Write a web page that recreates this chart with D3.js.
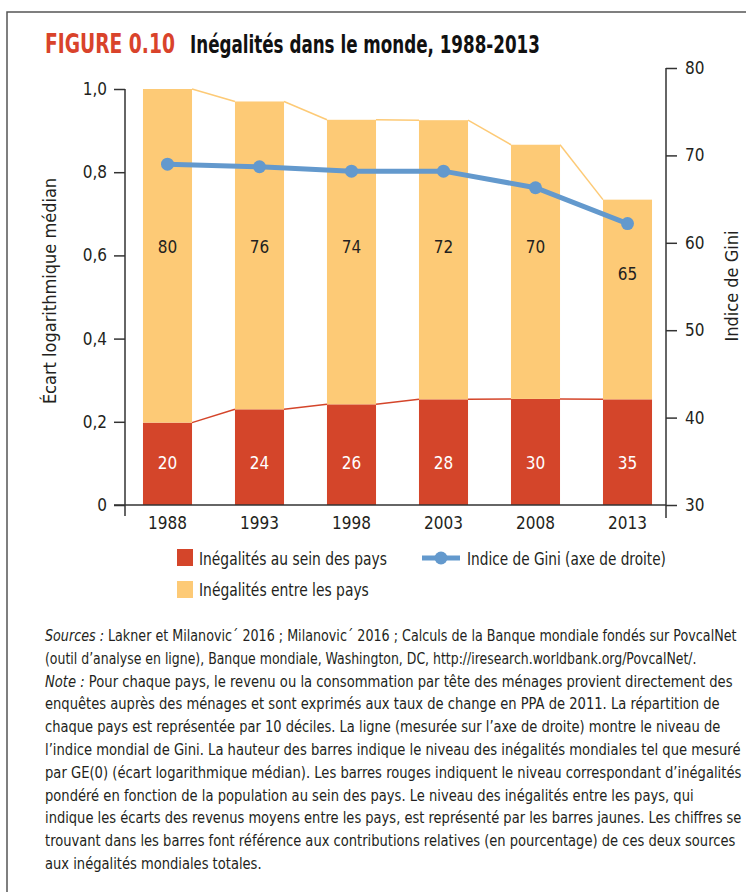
<!DOCTYPE html>
<html>
<head>
<meta charset="utf-8">
<script src="https://cdn.jsdelivr.net/npm/d3@7"></script>
<style>
  body { margin: 0; background: #fff; }
  svg text { font-family: "Liberation Sans Narrow", "DejaVu Sans Condensed", "Roboto Condensed", sans-serif; font-stretch: condensed; fill: #231f20; }
</style>
</head>
<body>
<script>
//chart values
var years = ["1988", "1993", "1998", "2003", "2008", "2013"];
//log deviation, within countries (red) and between countries (yellow)
var withinVals = [0.198, 0.230, 0.242, 0.254, 0.255, 0.254];
var betweenVals = [0.802, 0.740, 0.684, 0.671, 0.611, 0.480];
//percent labels written in the bars
var withinPct = [20, 24, 26, 28, 30, 35];
var betweenPct = [80, 76, 74, 72, 70, 65];
//gini index (right axis)
var gini = [69.0, 68.7, 68.2, 68.2, 66.3, 62.2];
//axis ticks
var leftTicks = [0, 0.2, 0.4, 0.6, 0.8, 1.0];
var rightTicks = [30, 40, 50, 60, 70, 80];

var footLines = [
    [["Sources :", true], [" Lakner et Milanovic´ 2016 ; Milanovic´ 2016 ; Calculs de la Banque mondiale fondés sur PovcalNet", false]],
    [["(outil d’analyse en ligne), Banque mondiale, Washington, DC, http://iresearch.worldbank.org/PovcalNet/.", false]],
    [["Note :", true], [" Pour chaque pays, le revenu ou la consommation par tête des ménages provient directement des", false]],
    [["enquêtes auprès des ménages et sont exprimés aux taux de change en PPA de 2011. La répartition de", false]],
    [["chaque pays est représentée par 10 déciles. La ligne (mesurée sur l’axe de droite) montre le niveau de", false]],
    [["l’indice mondial de Gini. La hauteur des barres indique le niveau des inégalités mondiales tel que mesuré", false]],
    [["par GE(0) (écart logarithmique médian). Les barres rouges indiquent le niveau correspondant d’inégalités", false]],
    [["pondéré en fonction de la population au sein des pays. Le niveau des inégalités entre les pays, qui", false]],
    [["indique les écarts des revenus moyens entre les pays, est représenté par les barres jaunes. Les chiffres se", false]],
    [["trouvant dans les barres font référence aux contributions relatives (en pourcentage) de ces deux sources", false]],
    [["aux inégalités mondiales totales.", false]]
];
//right end of each footnote line in the figure (last line keeps the previous squeeze)
var footEnds = [737, 697, 733, 720, 721, 741, 742, 694, 742, 736, null];

var red = "#d4452a";
var yellow = "#fdca76";
var blue = "#6399cd";

var w = 746, h = 892;
var svg = d3.select("body").append("svg")
    .attr("width", w)
    .attr("height", h);

//squeezes a text horizontally so it spans the given width, returns the factor
function fit(t, x, y, width, k) {
    t.attr("x", 0).attr("y", 0);
    if (!k) {
        k = width / t.node().getComputedTextLength();
    }
    t.attr("transform", "translate(" + x + "," + y + ") scale(" + k + ",1)");
    return k;
}

//frame lines
svg.append("path")
    .attr("d", "M7,892 V12 H746")
    .attr("fill", "none")
    .attr("stroke", "#555")
    .attr("stroke-width", 1.5);

//title
fit(svg.append("text")
    .attr("font-size", 26).attr("font-weight", "bold")
    .style("fill", "#d9432b")
    .text("FIGURE 0.10"), 45, 53, 130);
fit(svg.append("text")
    .attr("font-size", 24).attr("font-weight", "bold")
    .style("fill", "#111")
    .text("Inégalités dans le monde, 1988-2013"), 190, 53, 350);

//scales
var x = d3.scaleBand().domain(years).range([121.5, 673.5])
    .paddingInner(0.467).paddingOuter(0.2335);
var y = d3.scaleLinear().domain([0, 1]).range([505, 89]);
var yR = d3.scaleLinear().domain([30, 80]).range([505, 68]);

//stack the two series
var rows = years.map(function(d, i) {
    return { year: d, within: withinVals[i], between: betweenVals[i] };
});
var stack = d3.stack().keys(["within", "between"])(rows);
var colors = { within: red, between: yellow };

//connector lines between the bar tops
stack.forEach(function(s) {
    for (var i = 0; i < s.length - 1; i++) {
        svg.append("line")
            .attr("x1", x(years[i]) + x.bandwidth())
            .attr("y1", y(s[i][1]))
            .attr("x2", x(years[i + 1]))
            .attr("y2", y(s[i + 1][1]))
            .attr("stroke", colors[s.key])
            .attr("stroke-width", 1.5);
    }
});

//bars
stack.forEach(function(s) {
    svg.append("g").selectAll("rect")
        .data(s)
        .enter()
        .append("rect")
        .attr("x", function(d) { return x(d.data.year); })
        .attr("y", function(d) { return y(d[1]); })
        .attr("width", x.bandwidth())
        .attr("height", function(d) { return y(d[0]) - y(d[1]); })
        .attr("fill", colors[s.key]);
});

//percent labels in the bars
svg.append("g").selectAll("text")
    .data(years)
    .enter()
    .append("text")
    .attr("x", function(d) { return x(d) + x.bandwidth() / 2; })
    .attr("y", y(0.1))
    .attr("dy", "0.35em")
    .attr("text-anchor", "middle")
    .attr("font-size", 17)
    .style("fill", "#fff")
    .text(function(d, i) { return withinPct[i]; });
svg.append("g").selectAll("text")
    .data(years)
    .enter()
    .append("text")
    .attr("x", function(d) { return x(d) + x.bandwidth() / 2; })
    .attr("y", function(d, i) { return y(Math.min(0.62, withinVals[i] + betweenVals[i] - 0.18)); })
    .attr("dy", "0.35em")
    .attr("text-anchor", "middle")
    .attr("font-size", 17)
    .text(function(d, i) { return betweenPct[i]; });

//left axis
var leftAxis = d3.axisLeft(y).tickValues(leftTicks).tickSize(11).tickPadding(7)
    .tickFormat(function(d) { return d === 0 ? "0" : d3.format(".1f")(d).replace(".", ","); });
var gl = svg.append("g").attr("transform", "translate(125,0)").call(leftAxis);
gl.select(".domain").remove();
gl.selectAll("line").attr("stroke", "#333").attr("stroke-width", 1.5);
gl.selectAll("text").attr("font-size", 17).style("font-family", null);
svg.append("line").attr("x1", 125).attr("x2", 125).attr("y1", y(1)).attr("y2", 516)
    .attr("stroke", "#333").attr("stroke-width", 1.5);

//right axis
var rightAxis = d3.axisRight(yR).tickValues(rightTicks).tickSize(11).tickPadding(8);
var gr = svg.append("g").attr("transform", "translate(666,0)").call(rightAxis);
gr.select(".domain").remove();
gr.selectAll("line").attr("stroke", "#333").attr("stroke-width", 1.5);
gr.selectAll("text").attr("font-size", 17).style("font-family", null);
svg.append("line").attr("x1", 666).attr("x2", 666).attr("y1", yR(80)).attr("y2", 518)
    .attr("stroke", "#333").attr("stroke-width", 1.5);

//baseline
svg.append("line").attr("x1", 114).attr("x2", 666).attr("y1", y(0)).attr("y2", y(0))
    .attr("stroke", "#333").attr("stroke-width", 1.5);

//year labels
var bottomAxis = d3.axisBottom(x).tickSize(0).tickPadding(12);
var gb = svg.append("g").attr("transform", "translate(0," + y(0) + ")").call(bottomAxis);
gb.select(".domain").remove();
gb.selectAll("text").attr("font-size", 17).style("font-family", null);

//axis titles
svg.append("text")
    .attr("transform", "translate(56,291) rotate(-90)")
    .attr("text-anchor", "middle")
    .attr("font-size", 18)
    .text("Écart logarithmique médian");
svg.append("text")
    .attr("transform", "translate(738,286) rotate(-90)")
    .attr("text-anchor", "middle")
    .attr("font-size", 18)
    .text("Indice de Gini");

//gini line
var line = d3.line()
    .x(function(d, i) { return x(years[i]) + x.bandwidth() / 2; })
    .y(function(d) { return yR(d); });
svg.append("path")
    .datum(gini)
    .attr("d", line)
    .attr("fill", "none")
    .attr("stroke", blue)
    .attr("stroke-width", 5);
svg.append("g").selectAll("circle")
    .data(gini)
    .enter()
    .append("circle")
    .attr("cx", function(d, i) { return x(years[i]) + x.bandwidth() / 2; })
    .attr("cy", function(d) { return yR(d); })
    .attr("r", 6.5)
    .attr("fill", blue);

//legend
svg.append("rect").attr("x", 177).attr("y", 549).attr("width", 16).attr("height", 17).attr("fill", red);
fit(svg.append("text").attr("font-size", 18).text("Inégalités au sein des pays"), 199, 565, 188);
svg.append("rect").attr("x", 177).attr("y", 581).attr("width", 16).attr("height", 17).attr("fill", yellow);
fit(svg.append("text").attr("font-size", 18).text("Inégalités entre les pays"), 199, 596, 170);
svg.append("line").attr("x1", 422).attr("x2", 460).attr("y1", 558).attr("y2", 558)
    .attr("stroke", blue).attr("stroke-width", 5);
svg.append("circle").attr("cx", 441).attr("cy", 558).attr("r", 6.5).attr("fill", blue);
fit(svg.append("text").attr("font-size", 18).text("Indice de Gini (axe de droite)"), 467, 565, 199);

//footnote
var foot = svg.append("g");
var lastK = null;
footLines.forEach(function(parts, i) {
    var t = foot.append("text").attr("font-size", 16);
    parts.forEach(function(p) {
        t.append("tspan")
            .attr("font-style", p[1] ? "italic" : "normal")
            .text(p[0]);
    });
    lastK = fit(t, 45, 641 + i * 22.8, footEnds[i] ? footEnds[i] - 45 : 0,
        footEnds[i] ? null : lastK);
});
</script>
</body>
</html>
